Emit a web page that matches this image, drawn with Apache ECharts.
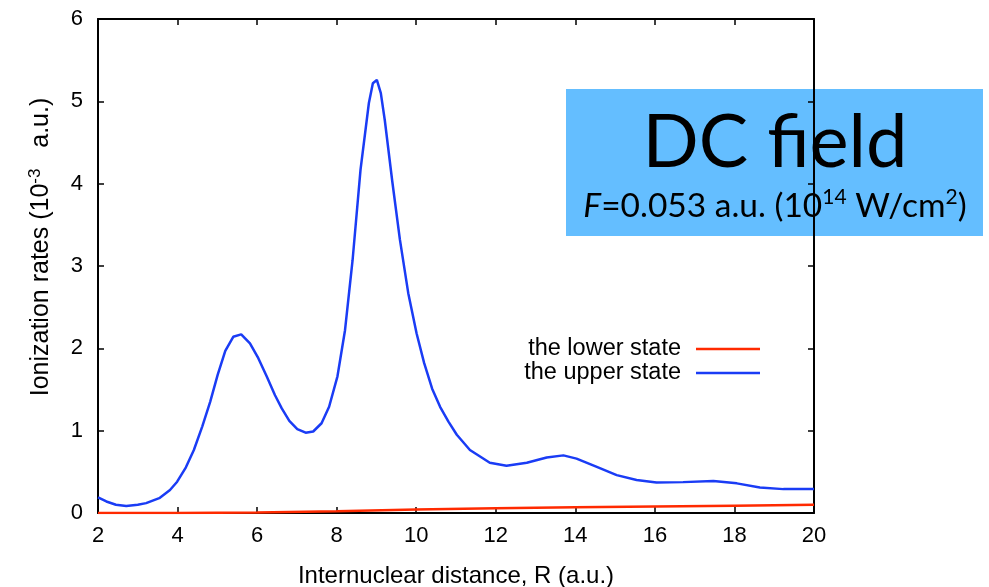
<!DOCTYPE html>
<html>
<head>
<meta charset="utf-8">
<script src="https://cdn.jsdelivr.net/npm/echarts@6/dist/echarts.min.js"></script>
<style>html,body{margin:0;padding:0;background:#fff;}#c{width:989px;height:587px;}</style>
</head>
<body>
<div id="c"></div>
<script>
// ---- data ----
var upperR = [2.0, 2.21, 2.45, 2.71, 3.0, 3.21, 3.54, 3.81, 3.99, 4.21, 4.41, 4.62, 4.82, 5.01, 5.20, 5.40, 5.60, 5.82, 6.03, 6.24, 6.45, 6.62, 6.81, 7.01, 7.22, 7.41, 7.62, 7.81, 8.02, 8.21, 8.40, 8.60, 8.81, 8.91, 9.01, 9.11, 9.21, 9.40, 9.59, 9.80, 10.01, 10.20, 10.40, 10.60, 10.81, 11.02, 11.35, 11.85, 12.27, 12.78, 13.28, 13.70, 14.03, 14.54, 15.04, 15.54, 16.04, 16.71, 17.47, 18.06, 18.64, 19.23, 20.0];
var upperV = [0.19, 0.14, 0.10, 0.085, 0.10, 0.12, 0.18, 0.28, 0.38, 0.555, 0.765, 1.05, 1.35, 1.68, 1.97, 2.14, 2.17, 2.06, 1.88, 1.66, 1.43, 1.27, 1.12, 1.02, 0.975, 0.99, 1.09, 1.29, 1.66, 2.22, 3.07, 4.17, 4.98, 5.22, 5.26, 5.10, 4.77, 4.02, 3.32, 2.67, 2.18, 1.82, 1.51, 1.29, 1.11, 0.95, 0.765, 0.61, 0.575, 0.61, 0.675, 0.70, 0.66, 0.56, 0.46, 0.40, 0.37, 0.375, 0.39, 0.36, 0.31, 0.29, 0.29];
var lowerR = [2, 4, 6, 8, 10, 12, 14, 16, 18, 20];
var lowerV = [0.0, 0.0, 0.005, 0.022, 0.042, 0.057, 0.069, 0.080, 0.089, 0.099];
var xTicks = [2, 4, 6, 8, 10, 12, 14, 16, 18, 20];
var yTicks = [0, 1, 2, 3, 4, 5, 6];
var seriesNames = ['the lower state', 'the upper state'];
var xTitle = 'Internuclear distance, R (a.u.)';
var boxTitle = 'DC field';

function pairs(xs, ys) { return xs.map(function (x, i) { return [x, ys[i]]; }); }

var chart = echarts.init(document.getElementById('c'));
var axisFont = 'Liberation Sans, Arial, Helvetica, sans-serif';
var spine = { show: true, onZero: false, lineStyle: { color: '#000', width: 2 } };
var tick = { show: true, inside: true, length: 6, lineStyle: { color: '#000', width: 1.5 } };
var lineIcon = 'path://M0,0H64V2.5H0Z';

chart.setOption({
  animation: false,
  backgroundColor: '#fff',
  grid: { left: 98, right: 175, top: 19, bottom: 74, containLabel: false, outerBoundsMode: 'none' },
  xAxis: [{
    type: 'value', min: 2, max: 20, interval: 2, z: 10,
    axisLine: spine, axisTick: tick, splitLine: { show: false },
    axisLabel: { color: '#000', fontSize: 22, fontFamily: axisFont, margin: 12 },
    name: xTitle, nameLocation: 'middle', nameGap: 51,
    nameTextStyle: { color: '#000', fontSize: 24, fontFamily: axisFont }
  }, {
    type: 'value', position: 'top', min: 2, max: 20, interval: 2, z: 10,
    axisLine: spine, axisTick: tick, axisLabel: { show: false }, splitLine: { show: false }
  }],
  yAxis: [{
    type: 'value', min: 0, max: 6, interval: 1, z: 10,
    axisLine: spine, axisTick: tick, splitLine: { show: false },
    axisLabel: { color: '#000', fontSize: 22, fontFamily: axisFont, margin: 15 },
    name: '{a|Ionization rates (10}{s|-3}{a|   a.u.)}', nameLocation: 'middle', nameGap: 42, nameRotate: 90,
    nameTextStyle: {
      color: '#000', fontFamily: axisFont, padding: [0, 0, 0, 38],
      rich: {
        a: { fontSize: 25, fontFamily: axisFont, color: '#000', lineHeight: 29 },
        s: { fontSize: 17, fontFamily: axisFont, color: '#000', lineHeight: 29, verticalAlign: 'top' }
      }
    }
  }, {
    type: 'value', position: 'right', min: 0, max: 6, interval: 1, z: 10,
    axisLine: spine, axisTick: tick, axisLabel: { show: false }, splitLine: { show: false }
  }],
  legend: {
    data: [{ name: seriesNames[0], icon: lineIcon }, { name: seriesNames[1], icon: lineIcon }],
    orient: 'vertical', align: 'right',
    right: 224, top: 332, itemGap: 0, itemWidth: 64, itemHeight: 2.5,
    textStyle: { color: '#000', fontSize: 23.5, fontFamily: axisFont, padding: [0, 10, 0, 0] }
  },
  series: [{
    name: seriesNames[0], type: 'line', data: pairs(lowerR, lowerV), symbol: 'none', z: 20,
    lineStyle: { color: '#ff2a00', width: 2.5 }, itemStyle: { color: '#ff2a00' }
  }, {
    name: seriesNames[1], type: 'line', data: pairs(upperR, upperV), symbol: 'none', z: 20,
    lineStyle: { color: '#1a3cf5', width: 2.5 }, itemStyle: { color: '#1a3cf5' }
  }],
  graphic: [
    { type: 'rect', z: 1, shape: { x: 566, y: 89, width: 417, height: 147 }, style: { fill: '#64beff' } },
    { type: 'text', z: 2, x: 775, y: 143, style: {
        text: boxTitle, fill: '#000', fontSize: 74, fontFamily: 'Lato', align: 'center', verticalAlign: 'middle'
    } },
    { type: 'text', z: 2, x: 775, y: 206, style: {
        text: '{i|F}{n|=0.053 a.u. (10}{s|14}{n| W/cm}{s|2}{n|)}', align: 'center', verticalAlign: 'middle',
        rich: {
          i: { fontSize: 33.5, fontFamily: 'Lato', fontStyle: 'italic', fill: '#000', lineHeight: 38 },
          n: { fontSize: 33.5, fontFamily: 'Lato', fill: '#000', lineHeight: 38 },
          s: { fontSize: 21, fontFamily: 'Lato', fill: '#000', lineHeight: 38, verticalAlign: 'top' }
        }
    } }
  ]
});
</script>
</body>
</html>
